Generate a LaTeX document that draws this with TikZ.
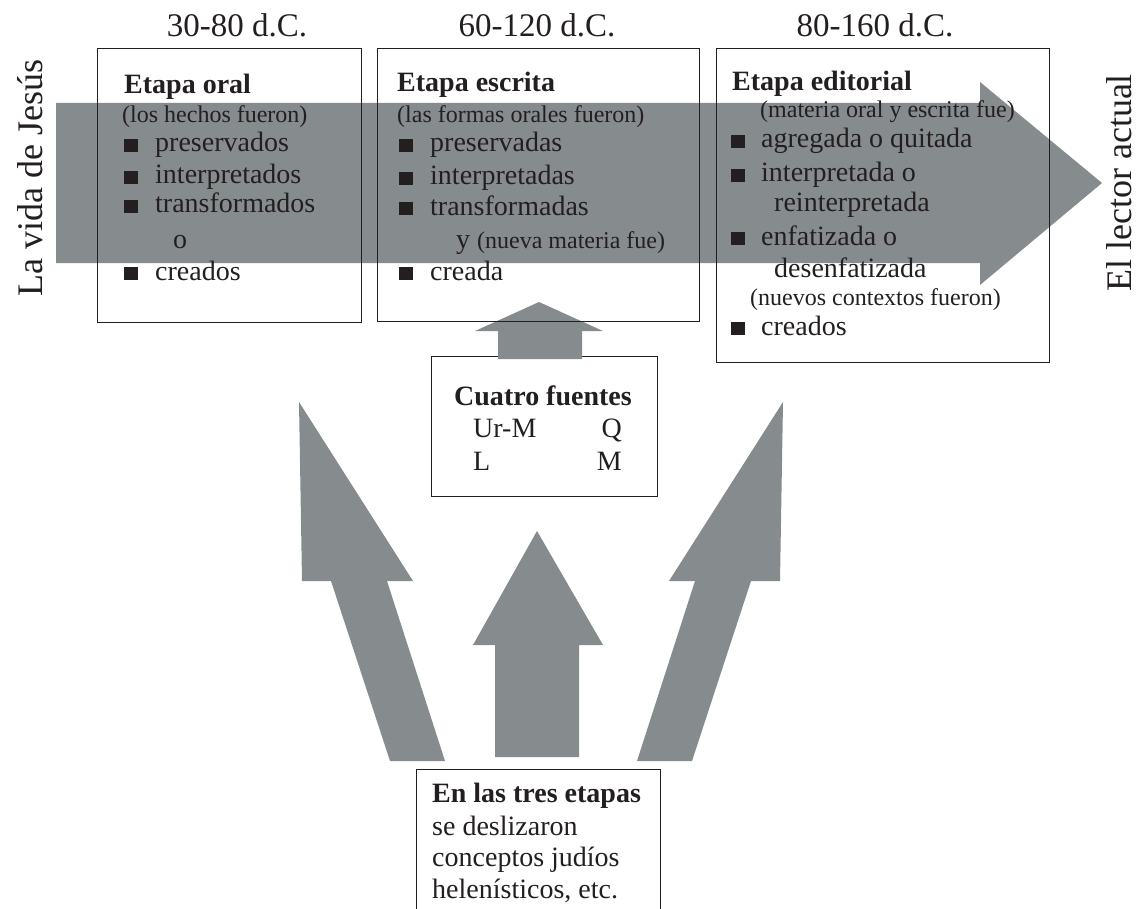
\documentclass[tikz,border=0pt]{standalone}
\usepackage{fontspec}
\setmainfont{Liberation Serif}
\definecolor{arr}{RGB}{134,139,142}
\definecolor{ink}{RGB}{35,31,32}
\newcommand{\mybul}{\textcolor{ink}{\rule{14pt}{13pt}}\hspace{17pt}}
\newcommand{\mybulc}{\textcolor{ink}{\rule{14pt}{13pt}}\hspace{16pt}}
\begin{document}
\begin{tikzpicture}[x=1pt,y=-1pt,
  box/.style={draw=ink, line width=0.9pt, inner sep=0pt, anchor=north west},
  txt/.style={inner sep=0pt, anchor=base west, text=ink, font=\fontsize{28}{32}\selectfont},
  sm/.style={txt, font=\fontsize{24}{28}\selectfont},
  bld/.style={txt, font=\fontsize{28}{32}\selectfont\bfseries},
  head/.style={inner sep=0pt, anchor=base, text=ink, font=\fontsize{33}{38}\selectfont},
  side/.style={inner sep=0pt, anchor=base, text=ink, rotate=90, font=\fontsize{36}{40}\selectfont},
  bigarrow/.style={fill=arr, draw=none}]
\useasboundingbox (0,0) rectangle (1139,909);

% big horizontal arrow
\fill[bigarrow] (56,103) -- (980,103) -- (980,82) -- (1102,183) -- (980,285) -- (980,263) -- (56,263) -- cycle;

% lower arrows
\fill[bigarrow] (390,761) -- (331,581) -- (302,581) -- (299,402) -- (413,581) -- (387,581) -- (445,761) -- cycle;
\fill[bigarrow] (692,761) -- (751,581) -- (780,581) -- (783,402) -- (669,581) -- (695,581) -- (637,761) -- cycle;
\fill[bigarrow] (495,757) -- (495,645) -- (473,645) -- (537,531) -- (603,645) -- (579,645) -- (579,757) -- cycle;

% Cuatro fuentes box
\node[box, minimum width=226, minimum height=140] (fuentes) at (431,356) {};
% small arrow
\fill[bigarrow] (498,359) -- (498,331) -- (475,331) -- (539,302) -- (603,331) -- (582,331) -- (582,359) -- cycle;

% stage boxes
\node[box, minimum width=264, minimum height=274] (oral) at (97,48) {};
\node[box, minimum width=322, minimum height=273] (escrita) at (377,48) {};
\node[box, minimum width=333, minimum height=314] (editorial) at (716,48) {};

% bottom box (open at the bottom edge)
\node[inner sep=0pt, anchor=north west, minimum width=244, minimum height=150] (tres) at (416,769) {};
\draw[ink, line width=0.9pt] (tres.south west) -- (tres.north west) -- (tres.north east) -- (tres.south east);

% headers
\node[head] (h1) at (237,37) {30-80 d.C.};
\node[head] (h2) at (537,37) {60-120 d.C.};
\node[head] (h3) at (875,37) {80-160 d.C.};

% side labels
\node[side] (vida) at (42,178) {La vida de Jesús};
\node[side] (lector) at (1131,183) {El lector actual};

% box 1
\node[bld] (o0) at (124,94) {Etapa oral};
\node[sm]  (o1) at (122,123) {(los hechos fueron)};
\node[txt] (o2) at (124,152) {\mybul preservados};
\node[txt] (o3) at (124,184) {\mybul interpretados};
\node[txt] (o4) at (124,213) {\mybul transformados};
\node[txt] (o5) at (173,248) {o};
\node[txt] (o6) at (124,280) {\mybul creados};

% box 2
\node[bld] (e0) at (397,92) {Etapa escrita};
\node[sm]  (e1) at (397,123) {(las formas orales fueron)};
\node[txt] (e2) at (399,152) {\mybul preservadas};
\node[txt] (e3) at (399,185) {\mybul interpretadas};
\node[txt] (e4) at (399,215) {\mybul transformadas};
\node[txt] (e5) at (456,248) {y {\fontsize{24}{28}\selectfont (nueva materia fue)}};
\node[txt] (e6) at (399,280) {\mybul creada};

% box 3
\node[bld] (d0) at (732,91) {Etapa editorial};
\node[sm]  (d1) at (760,118) {(materia oral y escrita fue)};
\node[txt] (d2) at (731,148) {\mybulc agregada o quitada};
\node[txt] (d3) at (731,182) {\mybulc interpretada o};
\node[txt] (d4) at (774,212) {reinterpretada};
\node[txt] (d5) at (731,245) {\mybulc enfatizada o};
\node[txt] (d6) at (774,277) {desenfatizada};
\node[sm]  (d7) at (750,305) {(nuevos contextos fueron)};
\node[txt] (d8) at (731,335) {\mybulc creados};

% Cuatro fuentes text
\node[bld, anchor=base] (f0) at (543,405) {Cuatro fuentes};
\node[txt] (f1) at (473,437) {Ur-M};
\node[txt, anchor=base east] (f2) at (622,437) {Q};
\node[txt] (f3) at (473,470) {L};
\node[txt, anchor=base east] (f4) at (622,470) {M};

% bottom text
\node[bld] (t0) at (432,802) {En las tres etapas};
\node[txt] (t1) at (432,835) {se deslizaron};
\node[txt] (t2) at (432,866) {conceptos judíos};
\node[txt] (t3) at (432,898) {helenísticos, etc.};
\end{tikzpicture}
\end{document}
